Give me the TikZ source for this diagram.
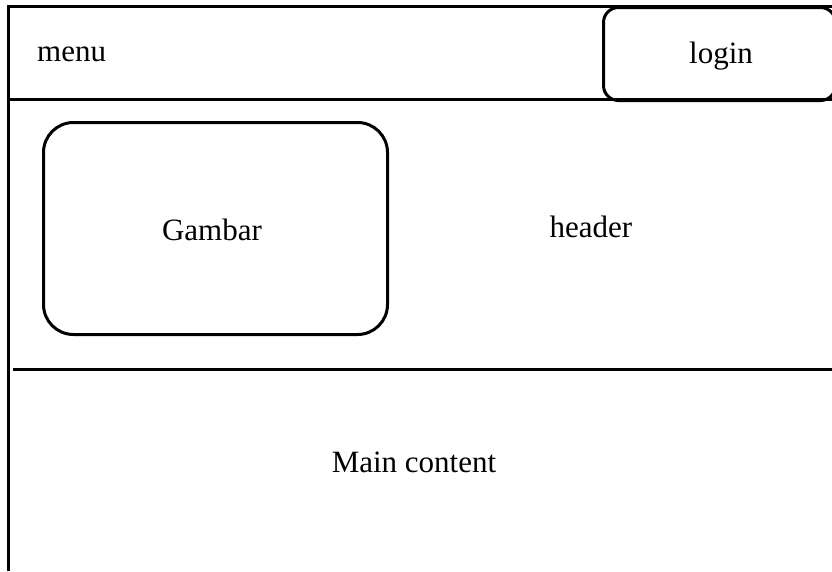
\documentclass[tikz,border=0pt]{standalone}
\usepackage{fontspec}
\setmainfont{Liberation Serif}
\begin{document}
\begin{tikzpicture}[x=1pt,y=-1pt,
  frame/.style={line width=3pt},
  boxshape/.style={draw,line width=3pt,inner sep=0pt,anchor=north west},
  lbl/.style={font=\fontsize{31}{37}\selectfont,inner sep=0pt}]
\useasboundingbox (0,0) rectangle (832,571);
% frame lines
\coordinate (tl) at (8.5,6);
\coordinate (tr) at (832,6);
\coordinate (bl) at (8.5,571);
\coordinate (ml) at (8.5,99.5);
\coordinate (mr) at (832,99.5);
\coordinate (hl) at (13,369);
\coordinate (hr) at (832,369);
\draw[frame] (tr) -- (tl) -- (bl);
\draw[frame] (ml) -- (mr);
\draw[frame] (hl) -- (hr);
% login box
\node[boxshape,rounded corners=15pt,minimum width=232pt,minimum height=93pt] (loginbox) at (602,6) {};
% gambar box
\node[boxshape,rounded corners=30pt,minimum width=344pt,minimum height=212pt] (gambarbox) at (42,121) {};
% labels
\node[lbl,anchor=base west] (menu) at (37,61) {menu};
\node[lbl,anchor=base] (login) at (721,63) {login};
\node[lbl,anchor=base] (gambar) at (212,240) {Gambar};
\node[lbl,anchor=base] (header) at (591,237) {header};
\node[lbl,anchor=base] (main) at (414,472) {Main content};
\end{tikzpicture}
\end{document}
